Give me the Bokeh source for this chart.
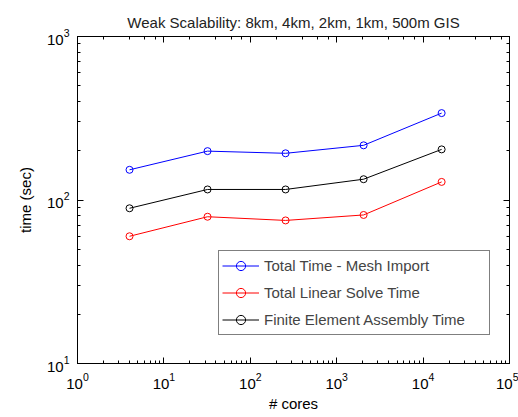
from bokeh.plotting import figure
from bokeh.models import (LogAxis, LogTicker, FixedTicker, LogTickFormatter, Legend,
                          LegendItem, CustomJSTickFormatter)
from bokeh.embed import file_html
from bokeh.resources import INLINE

cores = [4, 32, 256, 2048, 16384]
total_time = [153, 199, 193, 216, 340]
linear_solve = [60, 79, 75, 81, 129]
assembly = [89, 116, 116, 134, 204]

y_major = [10, 100, 1000]
y_minor = [20, 30, 40, 50, 60, 70, 80, 90, 200, 300, 400, 500, 600, 700, 800, 900]

title = "Weak Scalability: 8km, 4km, 2km, 1km, 500m GIS"
labels = ["Total Time - Mesh Import", "Total Linear Solve Time", "Finite Element Assembly Time"]
FONT = "Liberation Sans"

p = figure(width=518, height=417, x_axis_type="log", y_axis_type="log",
           x_range=(1, 1e5), y_range=(10, 1000), output_backend="svg",
           toolbar_location=None, min_border_left=77, min_border_top=36,
           min_border_right=9, min_border_bottom=54)
p.title.text = title
p.title.align = "center"
p.title.text_font = FONT
p.title.text_font_size = "15px"
p.title.text_font_style = "normal"
p.title.text_color = "#222222"
p.title.standoff = 12
p.xgrid.visible = False
p.ygrid.visible = False
p.outline_line_color = "black"
p.background_fill_color = "white"
p.border_fill_color = "white"

p.yaxis.ticker = FixedTicker(ticks=y_major, minor_ticks=y_minor)
p.yaxis.formatter = LogTickFormatter()

p.xaxis.axis_label = "# cores"
p.yaxis.axis_label = "time (sec)"

for ax in [p.xaxis[0], p.yaxis[0]]:
    ax.major_tick_in = 6
    ax.major_tick_out = 0
    ax.minor_tick_in = 3
    ax.minor_tick_out = 0
    ax.axis_line_color = "black"
    ax.major_label_text_font = FONT
    ax.major_label_text_font_size = "15px"
    ax.major_label_text_color = "black"
    ax.axis_label_text_font = FONT
    ax.axis_label_text_font_size = "15px"
    ax.axis_label_text_font_style = "normal"
    ax.axis_label_text_color = "black"
p.xaxis.major_label_standoff = 9
p.xaxis.axis_label_standoff = 3
p.yaxis.major_label_standoff = 8
p.yaxis.axis_label_standoff = 10

for loc in ["right", "above"]:
    if loc == "right":
        ax = LogAxis(ticker=FixedTicker(ticks=y_major, minor_ticks=y_minor))
    else:
        ax = LogAxis(ticker=LogTicker())
    ax.formatter = CustomJSTickFormatter(code="return ''")
    ax.major_tick_in = 6
    ax.major_tick_out = 0
    ax.minor_tick_in = 3
    ax.minor_tick_out = 0
    ax.major_label_text_font_size = "1px"
    ax.major_label_standoff = 0
    ax.axis_label_standoff = 0
    ax.axis_line_color = "black"
    p.add_layout(ax, loc)

series = [(total_time, "#0000ff"), (linear_solve, "#ff0000"), (assembly, "#000000")]
items = []
for (vals, col), lab in zip(series, labels):
    r1 = p.line(cores, vals, line_color=col, line_width=1)
    r2 = p.scatter(cores, vals, marker="circle", size=7, fill_color=None,
                   line_color=col, line_width=1)
    items.append(LegendItem(label=lab, renderers=[r1, r2]))

legend = Legend(items=items, location=(141, 28), glyph_width=37, glyph_height=23,
                label_height=23, label_width=222, spacing=4, padding=3, label_standoff=5,
                label_text_font=FONT, label_text_font_size="15px",
                border_line_color="black", border_line_width=1,
                background_fill_alpha=1, margin=0)
p.add_layout(legend, "center")

open("out.html", "w").write(file_html(p, INLINE))
